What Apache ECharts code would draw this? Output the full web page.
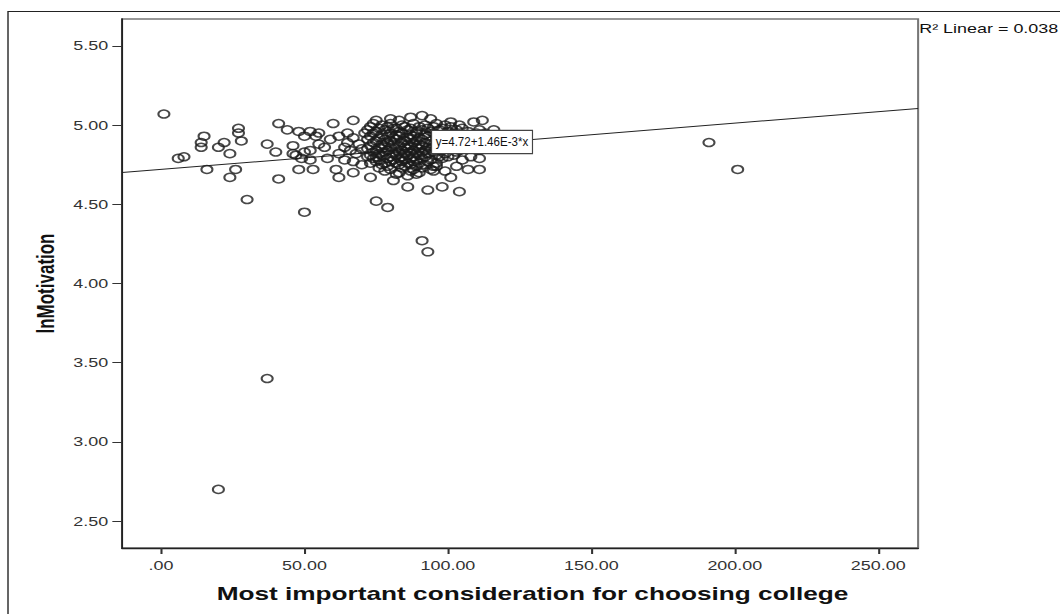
<!DOCTYPE html>
<html><head><meta charset="utf-8">
<script src="https://cdn.jsdelivr.net/npm/echarts@6/dist/echarts.min.js"></script>
<style>
html,body{margin:0;padding:0;background:#fff;overflow:hidden;}
#wrap{width:1060px;height:614px;overflow:hidden;position:relative;background:#fff;}
#chart{width:768px;height:614px;transform:scaleX(1.380208);transform-origin:0 0;}
</style></head>
<body><div id="wrap"><div id="chart"></div></div>
<script>
// ---- data ----
const xTicks = [0, 50, 100, 150, 200, 250];
const yTicks = [2.5, 3.0, 3.5, 4.0, 4.5, 5.0, 5.5];
const xRange = [-13.6, 263.9];
const yRange = [2.33, 5.67];
const fitIntercept = 4.72;
const fitSlope = 0.00146;
const fitLabel = 'y=4.72+1.46E-3*x';
const fitLabelAt = [94.5, 4.893];
const r2Label = 'R\u00b2 Linear = 0.038';
const xTitle = 'Most important consideration for choosing college';
const yTitle = 'lnMotivation';

const outliers = [
  [20,2.70],[37,3.40],[91,4.27],[93,4.20],[75,4.52],[79,4.48],[50,4.45],[30,4.53],
  [191,4.89],[201,4.72],[1,5.07]
];
const leftGroup = [
  [6,4.79],[8,4.80],[15,4.93],[14,4.89],[14,4.86],[16,4.72],[20,4.86],[22,4.89],
  [24,4.82],[27,4.98],[27,4.95],[28,4.90],[26,4.72],[24,4.67],[37,4.88],[40,4.83],
  [41,5.01],[44,4.97],[41,4.66],[46,4.87],[47,4.81],[48,4.96],[48,4.72]
];
const midGroup = [
  [50,4.93],[52,4.96],[54,4.93],[55,4.95],[59,4.91],[55,4.88],[57,4.86],[50,4.83],
  [52,4.84],[46,4.82],[49,4.79],[52,4.78],[58,4.79],[61,4.72],[53,4.72],[62,4.67],
  [67,4.70],[60,5.01],[67,5.03],[62,4.93],[65,4.95],[67,4.92],[69,4.88],[71,4.95],
  [64,4.86],[66,4.84],[68,4.82],[70,4.85],[72,4.80],[64,4.78],[67,4.77],[70,4.75],
  [73,4.76],[62,4.82],[65,4.89],[73,4.67],[81,4.65]
];
const edgeGroup = [
  [75,5.03],[80,5.04],[83,5.03],[87,5.05],[91,5.06],[94,5.04],[101,5.02],[104,5.00],
  [109,5.02],[112,5.03],[116,4.97],[113,4.95],[97,4.80],[102,4.81],[105,4.78],[108,4.80],
  [111,4.79],[103,4.74],[107,4.72],[99,4.71],[96,4.74],[86,4.61],[93,4.59],[98,4.61],
  [104,4.58],[101,4.67],[111,4.72]
];
const coreGroup = [
  [74,5.01],[77,5.00],[80,5.01],[84,5.00],[88,5.01],[92,5.00],[96,5.01],[99,5.00],
  [73,4.99],[76,4.98],[79,4.99],[82,4.98],[85,4.99],[87,4.98],[90,4.99],[93,4.98],[95,4.99],[98,4.98],[101,4.99],[105,4.98],
  [72,4.97],[75,4.96],[78,4.97],[81,4.98],[83,4.96],[86,4.97],[89,4.96],[91,4.97],[94,4.96],[97,4.97],[100,4.96],[103,4.97],[107,4.96],[111,4.97],
  [74,4.95],[77,4.94],[80,4.95],[82,4.94],[84,4.95],[87,4.94],[89,4.95],[92,4.94],[95,4.95],[98,4.94],[102,4.95],[106,4.94],[110,4.95],[113,4.94],
  [73,4.93],[76,4.92],[79,4.93],[81,4.92],[83,4.93],[86,4.92],[88,4.93],[90,4.92],[93,4.93],[96,4.92],[99,4.93],[104,4.92],[108,4.93],[112,4.92],
  [72,4.91],[75,4.90],[78,4.91],[80,4.90],[82,4.91],[85,4.90],[87,4.91],[89,4.90],[91,4.91],[94,4.90],[97,4.91],[101,4.90],[106,4.91],[110,4.90],[115,4.91],
  [74,4.89],[77,4.88],[79,4.89],[81,4.88],[84,4.89],[86,4.88],[88,4.89],[90,4.88],[92,4.89],[95,4.88],[98,4.89],[103,4.88],[108,4.89],[113,4.88],
  [73,4.87],[76,4.86],[78,4.87],[80,4.86],[83,4.87],[85,4.86],[87,4.87],[89,4.86],[91,4.87],[93,4.86],[96,4.87],[100,4.86],[105,4.87],[109,4.86],[114,4.87],
  [72,4.85],[75,4.84],[77,4.85],[79,4.84],[82,4.85],[84,4.84],[86,4.85],[88,4.84],[90,4.85],[92,4.84],[94,4.85],[97,4.84],[101,4.85],[104,4.84],[107,4.85],[111,4.84],
  [74,4.83],[76,4.82],[78,4.83],[81,4.82],[83,4.83],[85,4.82],[87,4.83],[89,4.82],[91,4.83],[93,4.82],[95,4.83],[99,4.82],[103,4.83],
  [73,4.81],[75,4.80],[77,4.81],[80,4.80],[82,4.81],[84,4.80],[86,4.81],[88,4.80],[90,4.81],[92,4.80],[96,4.81],[100,4.80],
  [74,4.79],[76,4.78],[79,4.79],[81,4.78],[83,4.79],[85,4.78],[87,4.79],[89,4.78],[91,4.79],[94,4.78],[98,4.79],
  [75,4.77],[78,4.76],[80,4.77],[82,4.76],[84,4.77],[86,4.76],[88,4.77],[90,4.76],[93,4.77],[96,4.76],
  [77,4.75],[79,4.74],[83,4.75],[85,4.74],[87,4.75],[89,4.74],[92,4.75],[95,4.74],
  [76,4.73],[80,4.72],[84,4.73],[88,4.72],[91,4.73],[94,4.72],
  [78,4.71],[83,4.70],[87,4.71],[90,4.70],[95,4.71],
  [82,4.69],[86,4.68],[89,4.69]
];

// ---- chart ----
const STRETCH = 1.380208;
const points = [].concat(outliers, leftGroup, midGroup, edgeGroup, coreGroup);
const fitLine = xRange.map(x => [x, fitIntercept + fitSlope * x]);
const FONT = '"Liberation Sans", Arial, sans-serif';

const baseGraphic = [
  {type: 'rect', silent: true, z: -10, shape: {x: 5.8, y: 11.5, width: 900, height: 700},
   style: {fill: 'none', stroke: '#222', lineWidth: 1}},
  {type: 'text', silent: true, left: 666, top: 22,
   style: {text: r2Label, font: '13px ' + FONT, fill: '#111'}}
];

const chart = echarts.init(document.getElementById('chart'), null, {renderer: 'svg', width: 768, height: 614});
chart.setOption({
  animation: false,
  backgroundColor: '#fff',
  grid: {left: 88.4, right: 102.8, top: 19, bottom: 66, show: true, borderColor: '#777', borderWidth: 1.5,
         backgroundColor: 'transparent', containLabel: false, outerBoundsMode: 'none'},
  xAxis: {
    type: 'value', min: xRange[0], max: xRange[1],
    splitLine: {show: false},
    axisLine: {show: true, onZero: false, lineStyle: {color: '#222', width: 1.3}},
    axisTick: {show: true, customValues: xTicks, length: 6, lineStyle: {color: '#333', width: 1.5}},
    axisLabel: {customValues: xTicks, margin: 11, fontFamily: FONT, fontSize: 13, color: '#333',
      formatter: v => v === 0 ? '.00' : v.toFixed(2)},
    name: xTitle, nameLocation: 'middle', nameGap: 36,
    nameTextStyle: {fontFamily: FONT, fontSize: 19, fontWeight: 'bold', color: '#111', padding: [0, 0, 0, 18]}
  },
  yAxis: {
    type: 'value', min: yRange[0], max: yRange[1],
    splitLine: {show: false},
    axisLine: {show: true, onZero: false, lineStyle: {color: '#222', width: 1.3}},
    axisTick: {show: true, customValues: yTicks, length: 7, lineStyle: {color: '#333', width: 1}},
    axisLabel: {customValues: yTicks, margin: 10, fontFamily: FONT, fontSize: 13, color: '#333',
      formatter: v => v.toFixed(2)},
    name: yTitle, nameLocation: 'middle', nameGap: 47, nameRotate: 90,
    nameTextStyle: {fontFamily: FONT, fontSize: 17, fontWeight: 'bold', color: '#111'}
  },
  series: [
    {
      type: 'line', data: fitLine, symbol: 'none', silent: true, z: 3,
      lineStyle: {color: '#222', width: 1}
    },
    {
      type: 'scatter', data: points, symbol: 'circle', symbolSize: 8, z: 4,
      itemStyle: {color: 'rgba(0,0,0,0)', borderColor: '#1a1a1a', borderWidth: 1.5}
    }
  ],
  graphic: baseGraphic
});

// equation box, anchored at a data position, drawn narrower than the stretched page
const labelPx = chart.convertToPixel({gridIndex: 0}, fitLabelAt);
chart.setOption({
  graphic: baseGraphic.concat([
    {type: 'text', silent: true, z: 100, x: labelPx[0], y: labelPx[1], scaleX: 0.89 / STRETCH,
     style: {text: fitLabel, font: '13px ' + FONT, fill: '#111', align: 'left', verticalAlign: 'middle',
       backgroundColor: '#fff', borderColor: '#444', borderWidth: 1.3, padding: [5, 4, 4, 4]}}
  ])
});
</script>
</body></html>
